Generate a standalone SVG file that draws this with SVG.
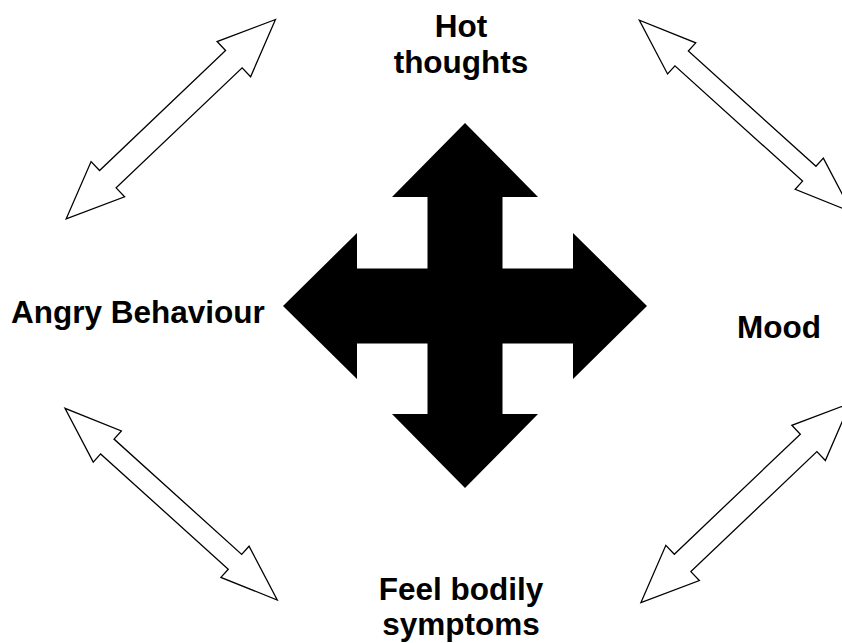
<svg xmlns="http://www.w3.org/2000/svg" xmlns:xlink="http://www.w3.org/1999/xlink" width="842" height="643" viewBox="0 0 842 643">
  <style>
    .lbl { font-family: "Liberation Sans", Arial, sans-serif; font-weight: bold; font-size: 31.5px; fill: #000; }
    .dbl { fill: #fff; stroke: #000; stroke-width: 1.3; stroke-linejoin: miter; }
  </style>
  <defs>
    <polygon id="dblA" points="144.5,0 87,-24.3 87,-12 -87,-12 -87,-24.3 -144.5,0 -87,24.3 -87,12 87,12 87,24.3"/>
    <polygon id="dblB" points="143,0 86,-21 86,-10 -86,-10 -86,-21 -143,0 -86,21 -86,10 86,10 86,21"/>
  </defs>
  <rect width="842" height="643" fill="#fff"/>

  <g id="cross">
    <polygon fill="#000" points="465,123 538,197 502.5,197 502.5,268.5 573,268.5 573,233 647,306 573,379 573,343.5 502.5,343.5 502.5,414 538,414 465,488 392,414 427.5,414 427.5,343.5 357,343.5 357,379 283,306 357,233 357,268.5 427.5,268.5 427.5,197 392,197"/>
  </g>

  <g id="connectors">
    <use xlink:href="#dblA" class="dbl" transform="translate(170.85,119.15) rotate(-43.6)"/>
    <use xlink:href="#dblB" class="dbl" transform="translate(745.45,116.05) rotate(42.1)"/>
    <use xlink:href="#dblB" class="dbl" transform="translate(171.15,504.15) rotate(42.08)"/>
    <use xlink:href="#dblA" class="dbl" transform="translate(745.6,502.9) rotate(-43.6)"/>
  </g>

  <g id="node-hot-thoughts">
    <text class="lbl" x="461" y="37.3" text-anchor="middle">Hot</text>
    <text class="lbl" x="461" y="72.7" text-anchor="middle">thoughts</text>
  </g>
  <g id="node-angry-behaviour">
    <text class="lbl" x="11" y="322.7">Angry Behaviour</text>
  </g>
  <g id="node-mood">
    <text class="lbl" x="737" y="337.7">Mood</text>
  </g>
  <g id="node-feel-bodily-symptoms">
    <text class="lbl" x="461" y="600" text-anchor="middle">Feel bodily</text>
    <text class="lbl" x="461" y="635.4" text-anchor="middle">symptoms</text>
  </g>
</svg>
